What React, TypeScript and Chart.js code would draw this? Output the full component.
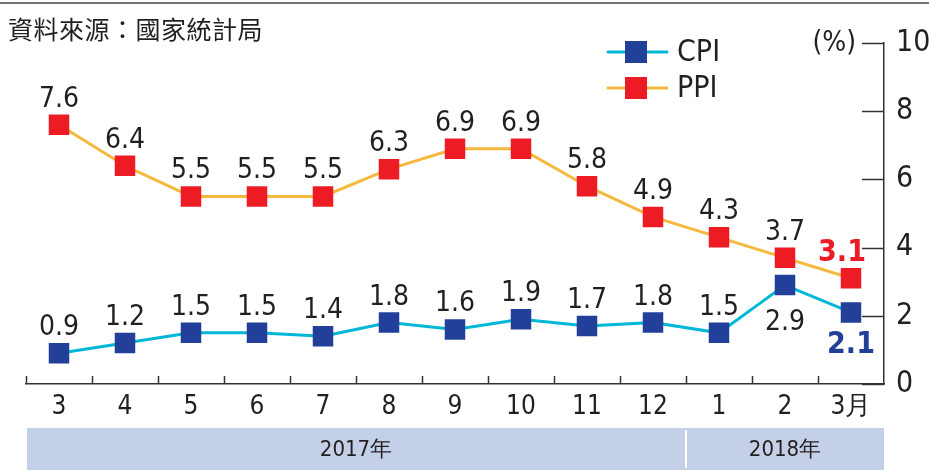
import React, { useEffect, useRef } from "react";
import { Chart, registerables } from "chart.js";

Chart.register(...registerables);

const months = ["3", "4", "5", "6", "7", "8", "9", "10", "11", "12", "1", "2", "3月"];
const cpi = [0.9, 1.2, 1.5, 1.5, 1.4, 1.8, 1.6, 1.9, 1.7, 1.8, 1.5, 2.9, 2.1];
const ppi = [7.6, 6.4, 5.5, 5.5, 5.5, 6.3, 6.9, 6.9, 5.8, 4.9, 4.3, 3.7, 3.1];
const yearLabels = ["2017年", "2018年"];
const yearStartIndex = [0, 10];
const sourceText = "資料來源：國家統計局";
const unitText = "(%)";

const NUM_FONT = '"Liberation Sans Narrow", "DejaVu Sans Condensed", "Roboto Condensed", "Liberation Sans", sans-serif';
const CJK_FONT = '"Noto Sans CJK TC", "Noto Sans CJK SC", sans-serif';
const TEXT = "#231f20";

const CPI_LINE = "#00b8d6";
const CPI_MARK = "#22409a";
const PPI_LINE = "#f6b93f";
const PPI_MARK = "#ed1c24";

const extras = {
  id: "extras",
  beforeDraw(chart: any) {
    const { ctx, chartArea, scales } = chart;
    const x = scales.x;
    ctx.save();
    // top rule
    ctx.strokeStyle = "#444";
    ctx.lineWidth = 1.5;
    ctx.beginPath();
    ctx.moveTo(0, 3);
    ctx.lineTo(chart.width, 3);
    ctx.stroke();
    // year band
    const bandTop = 428;
    const bandBottom = 470;
    ctx.fillStyle = "#c3d0e7";
    ctx.fillRect(chartArea.left + 1, bandTop, chartArea.right - chartArea.left - 1, bandBottom - bandTop);
    const half = (x.getPixelForValue(1) - x.getPixelForValue(0)) / 2;
    const starts = yearStartIndex.map((i) => x.getPixelForValue(i) - half);
    ctx.strokeStyle = "#ffffff";
    ctx.lineWidth = 2;
    for (let k = 1; k < starts.length; k++) {
      ctx.beginPath();
      ctx.moveTo(starts[k], bandTop + 2);
      ctx.lineTo(starts[k], bandBottom - 2);
      ctx.stroke();
    }
    ctx.fillStyle = TEXT;
    ctx.font = `22px ${NUM_FONT}`;
    ctx.textAlign = "center";
    ctx.textBaseline = "middle";
    for (let k = 0; k < yearLabels.length; k++) {
      const s = starts[k];
      const e = k + 1 < starts.length ? starts[k + 1] : chartArea.right;
      ctx.fillText(yearLabels[k], (s + e) / 2, (bandTop + bandBottom) / 2 + 1);
    }
    ctx.restore();
  },
  afterDraw(chart: any) {
    const { ctx, chartArea, scales } = chart;
    const x = scales.x;
    const y = scales.y;
    ctx.save();
    ctx.strokeStyle = "#333";
    ctx.lineWidth = 1.5;
    // y ticks inward
    for (let v = 0; v <= 10; v += 2) {
      const py = Math.round(y.getPixelForValue(v)) + 0.5;
      ctx.beginPath();
      ctx.moveTo(chartArea.right - 22, py);
      ctx.lineTo(chartArea.right, py);
      ctx.stroke();
    }
    // x ticks upward at category boundaries
    const half = (x.getPixelForValue(1) - x.getPixelForValue(0)) / 2;
    for (let i = 0; i < months.length; i++) {
      const px = Math.round(x.getPixelForValue(i) - half) + 0.5;
      ctx.beginPath();
      ctx.moveTo(px, chartArea.bottom);
      ctx.lineTo(px, chartArea.bottom - 8);
      ctx.stroke();
    }
    // source text
    ctx.fillStyle = TEXT;
    ctx.font = `25px ${CJK_FONT}`;
    ctx.textAlign = "left";
    ctx.textBaseline = "middle";
    try { (ctx as any).letterSpacing = "0.5px"; } catch (e) {}
    ctx.fillText(sourceText, 8, 29);
    try { (ctx as any).letterSpacing = "0px"; } catch (e) {}
    // unit
    ctx.font = `28px ${NUM_FONT}`;
    ctx.textAlign = "right";
    ctx.fillText(unitText, chartArea.right - 28, y.getPixelForValue(10) + 1);
    // legend
    const legend = [
      { label: "CPI", line: CPI_LINE, mark: CPI_MARK, y: 52 },
      { label: "PPI", line: PPI_LINE, mark: PPI_MARK, y: 88 },
    ];
    for (const it of legend) {
      ctx.strokeStyle = it.line;
      ctx.lineWidth = 3;
      ctx.lineCap = "round";
      ctx.beginPath();
      ctx.moveTo(608, it.y);
      ctx.lineTo(667, it.y);
      ctx.stroke();
      ctx.fillStyle = it.mark;
      ctx.fillRect(625, it.y - 11, 22, 22);
      ctx.fillStyle = TEXT;
      ctx.font = `30px ${NUM_FONT}`;
      ctx.textAlign = "left";
      ctx.textBaseline = "middle";
      ctx.fillText(it.label, 677, it.y + 1);
    }
    // data labels
    chart.data.datasets.forEach((ds: any, di: number) => {
      const meta = chart.getDatasetMeta(di);
      meta.data.forEach((pt: any, i: number) => {
        const v = ds.data[i];
        const last = i === ds.data.length - 1;
        let tx = pt.x;
        let ty = pt.y - 18;
        let color = TEXT;
        let font = `28px ${NUM_FONT}`;
        if (last) {
          font = `bold 30px ${NUM_FONT}`;
          color = ds.pointBackgroundColor;
        }
        if (ds.label === "CPI" && (i === ds.data.length - 2 || last)) {
          ty = pt.y + (last ? 41 : 45);
        }
        if (ds.label === "PPI" && last) {
          tx = pt.x - 9;
          ty = pt.y - 17;
        }
        ctx.fillStyle = color;
        ctx.font = font;
        ctx.textAlign = "center";
        ctx.textBaseline = "alphabetic";
        ctx.fillText(v.toFixed(1), tx, ty);
      });
    });
    ctx.restore();
  },
};

export default function App() {
  const ref = useRef<HTMLCanvasElement>(null);
  useEffect(() => {
    if (!ref.current) return;
    const chart = new Chart(ref.current, {
      type: "line",
      data: {
        labels: months,
        datasets: [
          {
            label: "PPI",
            data: ppi,
            borderColor: PPI_LINE,
            backgroundColor: PPI_MARK,
            pointBackgroundColor: PPI_MARK,
            pointBorderWidth: 0,
            pointStyle: "rect",
            pointRadius: 14.5,
            borderWidth: 3,
            tension: 0,
          },
          {
            label: "CPI",
            data: cpi,
            borderColor: CPI_LINE,
            backgroundColor: CPI_MARK,
            pointBackgroundColor: CPI_MARK,
            pointBorderWidth: 0,
            pointStyle: "rect",
            pointRadius: 14.5,
            borderWidth: 3,
            tension: 0,
          },
        ],
      },
      options: {
        responsive: false,
        animation: false,
        events: [],
        layout: { padding: { left: 26, top: 43, right: 0, bottom: 0 } },
        plugins: { legend: { display: false }, tooltip: { enabled: false }, title: { display: false } },
        scales: {
          x: {
            type: "category",
            offset: true,
            grid: { display: false, drawTicks: false },
            border: { display: true, color: "#333", width: 1.5 },
            ticks: { color: TEXT, font: { size: 26, family: NUM_FONT }, padding: 8, maxRotation: 0, autoSkip: false },
            afterFit: (s: any) => { s.height = 87; },
          },
          y: {
            position: "right",
            min: 0,
            max: 10,
            grid: { display: false, drawTicks: false },
            border: { display: true, color: "#333", width: 1.5 },
            ticks: { stepSize: 2, color: TEXT, font: { size: 30, family: NUM_FONT }, padding: 12 },
            afterFit: (s: any) => { s.width = 45; },
          },
        },
      },
      plugins: [extras],
    });
    return () => chart.destroy();
  }, []);
  return (
    <div style={{ position: "absolute", left: 0, top: 0, width: 929, height: 471, background: "#fff" }}>
      <canvas ref={ref} width={929} height={471} style={{ width: 929, height: 471, display: "block" }} />
    </div>
  );
}
